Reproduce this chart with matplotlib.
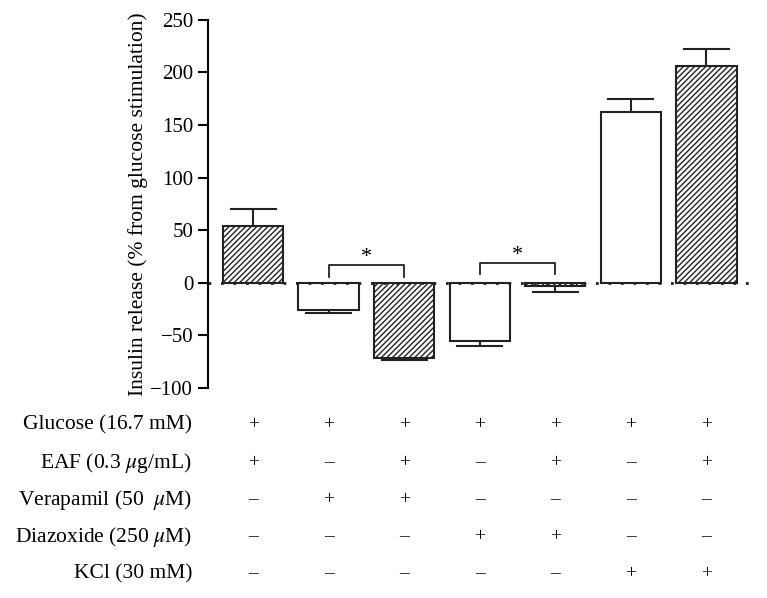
import matplotlib
matplotlib.use("Agg")
import matplotlib.pyplot as plt
import matplotlib.transforms as mtransforms

plt.rcParams["font.family"] = ["Liberation Serif", "DejaVu Serif"]
plt.rcParams["mathtext.fontset"] = "stix"
plt.rcParams["hatch.linewidth"] = 1.0

# Bar values (% change from glucose stimulation) and upper/lower SEM ends
values = [54, -26, -71, -55, -3, 162, 206]
errors = [16, 3, 2, 5, 6, 13, 16]
hatched = [True, False, True, False, True, False, True]

row_labels = [
    "Glucose (16.7 mM)",
    r"EAF (0.3 $\mu$g/mL)",
    r"Verapamil (50  $\mu$M)",
    r"Diazoxide (250 $\mu$M)",
    "KCl (30 mM)",
]
row_signs = [
    "+++++++",
    "+-+-+-+",
    "-++----",
    "---++--",
    "-----++",
]

# significance brackets: (left bar, right bar, bracket top value)
brackets = [(1, 2, 17), (3, 4, 19)]

fig = plt.figure(figsize=(7.67, 5.98), dpi=100)
ax = fig.add_axes([0.271, 0.351, 0.709, 0.616])

for i, (v, e, h) in enumerate(zip(values, errors, hatched)):
    ax.bar(i, v, width=0.8, facecolor="white", edgecolor="#222222",
           linewidth=1.5, hatch="//////" if h else None, zorder=2)
    end = v + e if v >= 0 else v - e
    ax.plot([i, i], [v, end], color="#222222", lw=1.5, zorder=1)
    ax.plot([i - 0.3, i + 0.3], [end, end], color="#222222", lw=1.5, zorder=1)

ax.axhline(0, color="#222222", lw=2, linestyle=(0, (1, 3.5)), zorder=3)

for a, b, top in brackets:
    ax.plot([a, a, b, b], [top - 11, top, top, top - 11], color="#222222", lw=1.3)
    ax.text((a + b) / 2, top + 7, "*", ha="center", va="center", fontsize=16)

ax.set_xlim(-0.6, 6.6)
ax.set_ylim(-100, 250)
ax.set_yticks([-100, -50, 0, 50, 100, 150, 200, 250])
ax.set_yticklabels(["\u2212100", "\u221250", "0", "50", "100", "150", "200", "250"])
ax.set_xticks([])
for side in ("top", "right", "bottom"):
    ax.spines[side].set_visible(False)
ax.spines["left"].set_linewidth(1.5)
ax.tick_params(axis="y", direction="out", length=7, width=1.5, labelsize=15)
ax.set_ylabel("Insulin release (% from glucose stimulation)", fontsize=15.5, labelpad=2)

# treatment table below the axis
trans = mtransforms.blended_transform_factory(ax.transData, fig.transFigure)
row_y = [425, 463, 500, 537, 574]
for label, signs, py in zip(row_labels, row_signs, row_y):
    fy = 1 - py / 598
    fig.text(192 / 767, fy, label, ha="right", va="center", fontsize=15.5)
    for i, s in enumerate(signs):
        ax.text(i, fy, "+" if s == "+" else "\u2013", transform=trans,
                ha="center", va="center", fontsize=14, clip_on=False)

fig.savefig("out.png", dpi=100)
